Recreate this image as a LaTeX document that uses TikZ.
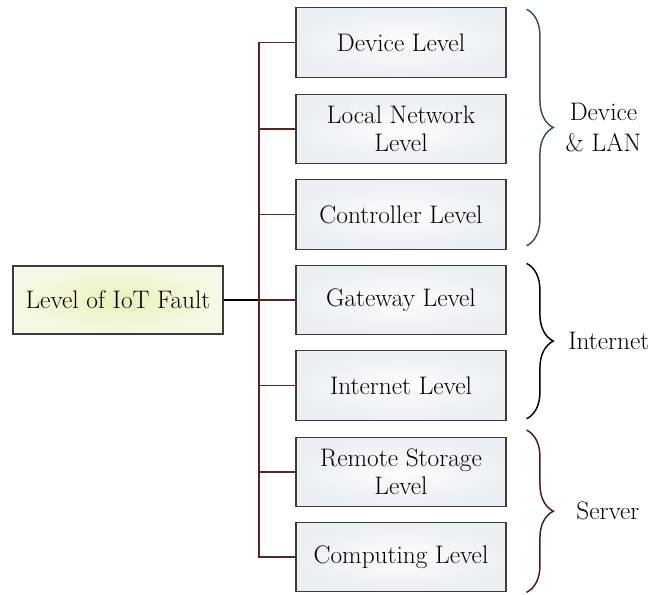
\documentclass[tikz,border=0pt]{standalone}
\usetikzlibrary{decorations.pathreplacing}

\definecolor{boxline}{RGB}{60,60,60}
\definecolor{linkline}{RGB}{90,40,35}
\definecolor{braceA}{RGB}{55,80,95}
\definecolor{braceC}{RGB}{70,30,25}

\tikzset{
  levelbox/.style={draw=boxline,line width=0.9pt,minimum width=157.5pt,minimum height=52pt,
    inner sep=0.75pt,align=center,font=\fontsize{19}{21}\selectfont,
    inner color={rgb,255:red,252;green,253;blue,254},outer color={rgb,255:red,235;green,239;blue,244}},
  rootbox/.style={levelbox,minimum height=51pt,
    inner color={rgb,255:red,236;green,241;blue,186},outer color={rgb,255:red,248;green,248;blue,230}},
  grpbrace/.style={decorate,decoration={brace,amplitude=20pt},line width=1.1pt},
  grplabel/.style={font=\fontsize{19}{23}\selectfont,align=center,inner sep=0.75pt,text=black}
}

\begin{document}
\begin{tikzpicture}[x=0.75pt,y=0.75pt,yscale=-1,xscale=1]
\useasboundingbox (0,0) rectangle (659,594);

%Shape: Rectangle [root]
\node [rootbox] (root) at (118,300) {Level of IoT Fault};

%Shape: Rectangle [levels]
\node [levelbox] (dev) at (401,42.5) {Device Level};
\node [levelbox] (lan) at (401,129) {Local Network\\Level};
\node [levelbox] (ctl) at (401,214.5) {Controller Level};
\node [levelbox] (gw) at (401,300) {Gateway Level};
\node [levelbox] (inet) at (401,385.5) {Internet Level};
\node [levelbox] (rs) at (401,472) {Remote Storage\\Level};
\node [levelbox] (cmp) at (401,557) {Computing Level};

%Straight Lines [trunk]
\coordinate (trunk) at (259,300);
\draw [line width=1.3pt] (root.east) -- (trunk);
\foreach \lv in {dev,lan,ctl,gw,inet,rs,cmp}
  \draw [linkline,line width=0.9pt] (\lv.west) -| (trunk);

%Braces
\draw [grpbrace,braceA] ([xshift=15pt,yshift=1.5pt]dev.north east) -- ([xshift=15pt,yshift=-3pt]ctl.south east)
  node [midway,xshift=28pt,anchor=west,grplabel] {Device\\\& LAN};
\draw [grpbrace,black] ([xshift=15pt,yshift=-1pt]gw.north east) -- ([xshift=15pt,yshift=-1.5pt]inet.south east)
  node [midway,xshift=30pt,anchor=west,grplabel] {Internet};
\draw [grpbrace,braceC] ([xshift=15pt,yshift=-5pt]rs.north east) -- ([xshift=15pt]cmp.south east)
  node [midway,xshift=36pt,anchor=west,grplabel] {Server};

\end{tikzpicture}
\end{document}
